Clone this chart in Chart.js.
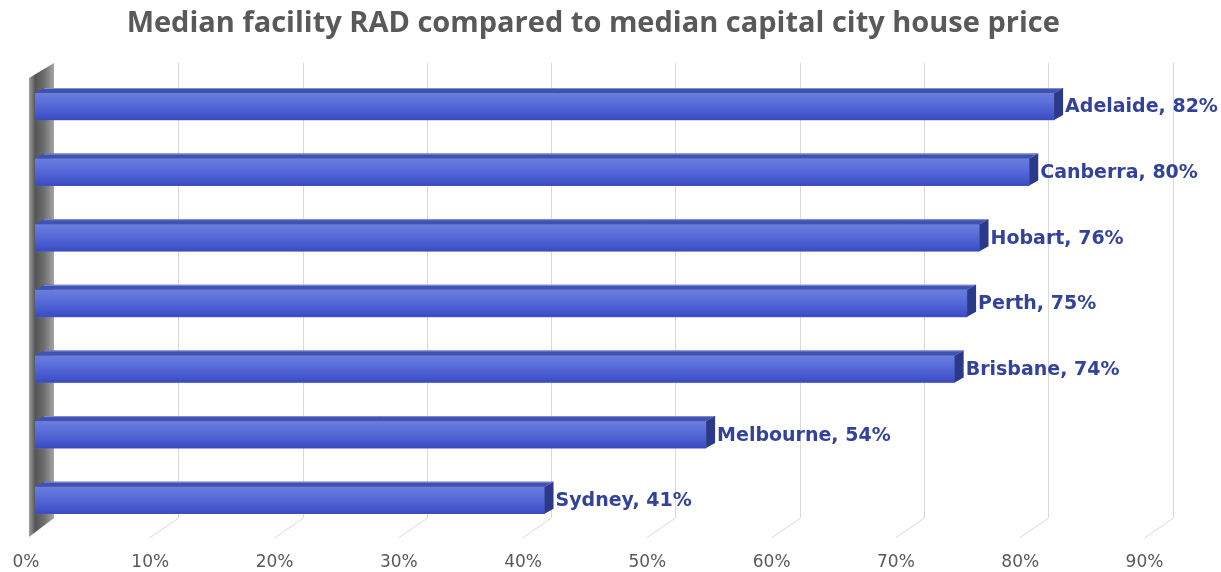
<!DOCTYPE html>
<html>
<head>
<meta charset="utf-8">
<title>Median facility RAD compared to median capital city house price</title>
<script src="https://cdn.jsdelivr.net/npm/chart.js@4.4.1/dist/chart.umd.min.js"></script>
<style>
  html, body { margin: 0; padding: 0; background: #fff; }
  #wrap { width: 1221px; height: 572px; position: relative; }
</style>
</head>
<body>
<div id="wrap"><canvas id="chart"></canvas></div>
<script>
// --- data ---
const cities = ['Adelaide', 'Canberra', 'Hobart', 'Perth', 'Brisbane', 'Melbourne', 'Sydney'];
const radShare = [82, 80, 76, 75, 74, 54, 41];   // % of median house price
const tickMax = 90;
const tickStep = 10;

// 3D look (pixels)
const DEPTH_X = 9, DEPTH_Y = 5;       // bar top/side faces
const BACK_X = 19, BACK_TOP = 63, BACK_BOTTOM = 518;   // back wall
const FLOOR_X = -29, FLOOR_Y = 20;    // floor slant

const gridColor = '#d9d9d9';
const labelColor = '#33439b';

// --- 3D box: left wall, back grid, floor lines, bar faces ---
const box3d = {
  id: 'box3d',
  beforeDatasetsDraw(chart) {
    const { ctx, scales: { x } } = chart;
    ctx.save();
    ctx.strokeStyle = gridColor;
    ctx.lineWidth = 1;
    for (let v = tickStep; v <= tickMax; v += tickStep) {
      const bx = Math.round(x.getPixelForValue(v) + BACK_X) + 0.5;
      ctx.beginPath();
      ctx.moveTo(bx, BACK_TOP);
      ctx.lineTo(bx, BACK_BOTTOM);
      ctx.lineTo(bx + FLOOR_X, BACK_BOTTOM + FLOOR_Y);
      ctx.stroke();
    }
    // left side wall
    const bx0 = x.getPixelForValue(0) + BACK_X;
    const fx0 = x.getPixelForValue(0) - 6;
    const g = ctx.createLinearGradient(fx0, 0, bx0, 0);
    g.addColorStop(0, '#a0a0a0');
    g.addColorStop(0.25, '#555555');
    g.addColorStop(0.6, '#6e6e6e');
    g.addColorStop(1, '#a4a4a4');
    ctx.fillStyle = g;
    ctx.beginPath();
    ctx.moveTo(fx0, BACK_TOP + 15);
    ctx.lineTo(bx0, BACK_TOP);
    ctx.lineTo(bx0, BACK_BOTTOM);
    ctx.lineTo(fx0, BACK_BOTTOM + 19);
    ctx.closePath();
    ctx.fill();
    ctx.restore();
  },
  afterDatasetsDraw(chart) {
    const { ctx } = chart;
    const meta = chart.getDatasetMeta(0);
    ctx.save();
    meta.data.forEach((bar, i) => {
      const { x, y, base, height } = bar.getProps(['x', 'y', 'base', 'height'], true);
      const top = y - height / 2, bot = y + height / 2;
      // front face shading
      const fg = ctx.createLinearGradient(0, top, 0, bot);
      fg.addColorStop(0, '#6a7edc');
      fg.addColorStop(0.35, '#5a6fda');
      fg.addColorStop(0.75, '#4659cf');
      fg.addColorStop(1, '#3a4bbd');
      ctx.fillStyle = fg;
      ctx.fillRect(base, top, x - base, height);
      // top face
      ctx.fillStyle = '#4153b0';
      ctx.beginPath();
      ctx.moveTo(base, top);
      ctx.lineTo(x, top);
      ctx.lineTo(x + DEPTH_X, top - DEPTH_Y);
      ctx.lineTo(base + DEPTH_X, top - DEPTH_Y);
      ctx.closePath();
      ctx.fill();
      ctx.strokeStyle = '#7f8fd8';
      ctx.lineWidth = 1;
      ctx.beginPath();
      ctx.moveTo(base + DEPTH_X, top - DEPTH_Y + 0.5);
      ctx.lineTo(x + DEPTH_X, top - DEPTH_Y + 0.5);
      ctx.stroke();
      // side face
      ctx.fillStyle = '#2b3989';
      ctx.beginPath();
      ctx.moveTo(x, top);
      ctx.lineTo(x + DEPTH_X, top - DEPTH_Y);
      ctx.lineTo(x + DEPTH_X, bot - DEPTH_Y);
      ctx.lineTo(x, bot);
      ctx.closePath();
      ctx.fill();
      // label
      ctx.fillStyle = labelColor;
      ctx.font = 'bold 19px "DejaVu Sans"';
      ctx.textAlign = 'left';
      ctx.textBaseline = 'middle';
      ctx.fillText(`${cities[i]}, ${radShare[i]}%`, x + DEPTH_X + 2, y + 1);
    });
    ctx.restore();
  }
};

new Chart(document.getElementById('chart'), {
  type: 'bar',
  data: {
    labels: cities,
    datasets: [{
      data: radShare,
      backgroundColor: '#4d62d4',
      borderWidth: 0,
      barThickness: 27
    }]
  },
  options: {
    indexAxis: 'y',
    responsive: true,
    maintainAspectRatio: false,
    animation: false,
    layout: { padding: { left: 33, right: 67.5, top: 0, bottom: 0 } },
    plugins: {
      legend: { display: false },
      tooltip: { enabled: false },
      title: {
        display: true,
        text: 'Median facility RAD compared to median capital city house price',
        color: '#595959',
        font: { family: '"Open Sans"', size: 29, weight: 'bold' },
        padding: { top: 6, bottom: 32.9 }
      }
    },
    scales: {
      x: {
        min: 0,
        max: tickMax,
        grid: { display: false, drawTicks: false },
        border: { display: false },
        afterFit: s => { s.height = 39; },
        ticks: {
          stepSize: tickStep,
          color: '#595959',
          font: { family: '"DejaVu Sans"', size: 17, lineHeight: 1 },
          padding: 21.5,
          labelOffset: -9,
          maxRotation: 0,
          callback: v => v + '%'
        }
      },
      y: {
        display: false,
        grid: { display: false }
      }
    }
  },
  plugins: [box3d]
});
</script>
</body>
</html>
